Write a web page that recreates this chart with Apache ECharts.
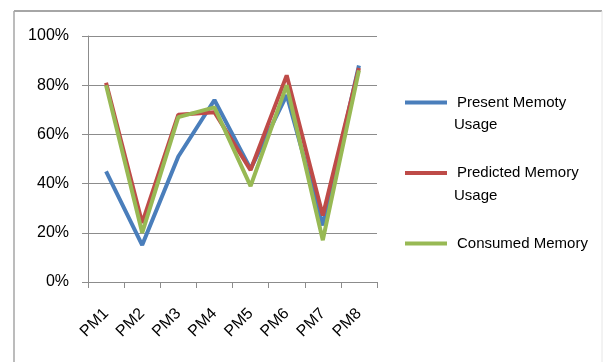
<!DOCTYPE html>
<html>
<head>
<meta charset="utf-8">
<script src="https://cdn.jsdelivr.net/npm/echarts@6/dist/echarts.min.js"></script>
<style>
  html, body { margin: 0; padding: 0; background: #fff; }
  #chart { width: 603px; height: 362px; }
</style>
</head>
<body>
<div id="chart"></div>
<script>
const categories = ["PM1", "PM2", "PM3", "PM4", "PM5", "PM6", "PM7", "PM8"];
const presentUsage = [45, 15, 51, 74, 46, 76, 23, 88];
const predictedUsage = [81, 24, 68, 69, 45.5, 84, 27, 87];
const consumedMemory = [80, 20, 67, 71, 39, 80, 17, 86];
const yTicks = [0, 20, 40, 60, 80, 100];

const chart = echarts.init(document.getElementById("chart"));

const lineSeries = (name, data, color) => ({
  name,
  type: "line",
  data,
  symbol: "none",
  lineStyle: { width: 4, color },
  itemStyle: { color },
});

// wrapped second line of the two long legend entries
const wrapText = (top) => ({
  type: "text",
  left: 454,
  top,
  style: { text: "Usage", fontSize: 15, fontFamily: "Liberation Sans", fill: "#000" },
});

chart.setOption({
  animation: false,
  textStyle: { fontFamily: "Liberation Sans" },
  graphic: [
    // outer chart frame (top, left, faint right)
    { type: "line", shape: { x1: 14, y1: 11, x2: 602, y2: 11 }, style: { stroke: "#a6a6a6", lineWidth: 2 } },
    { type: "line", shape: { x1: 14, y1: 11, x2: 14, y2: 362 }, style: { stroke: "#a6a6a6", lineWidth: 1.5 } },
    { type: "line", shape: { x1: 602, y1: 11, x2: 602, y2: 362 }, style: { stroke: "#e6e6e6", lineWidth: 1 } },
    wrapText(117),
    wrapText(188),
  ],
  legend: {
    orient: "vertical",
    left: 400,
    top: 86,
    itemWidth: 42,
    itemHeight: 4,
    itemGap: 47.5,
    icon: "rect",
    textStyle: { fontSize: 15, color: "#000", lineHeight: 23, padding: [0, 0, 0, 5] },
    formatter: (name) => name.replace(" Usage", ""),
    data: ["Present Memoty Usage", "Predicted Memory Usage", "Consumed Memory"],
  },
  grid: { left: 88, right: 226, top: 36, bottom: 80 },
  xAxis: {
    type: "category",
    data: categories,
    boundaryGap: true,
    axisLine: { lineStyle: { color: "#8c8c8c" } },
    axisTick: { show: true, length: 6, lineStyle: { color: "#8c8c8c" } },
    axisLabel: { rotate: 45, fontSize: 16, color: "#000", margin: 29 },
  },
  yAxis: {
    type: "value",
    min: yTicks[0],
    max: yTicks[yTicks.length - 1],
    interval: 20,
    axisLine: { show: true, lineStyle: { color: "#8c8c8c" } },
    axisTick: { show: true, length: 6, inside: false, lineStyle: { color: "#8c8c8c" } },
    axisLabel: { formatter: "{value}%", fontSize: 16, color: "#000", margin: 19 },
    splitLine: { lineStyle: { color: "#8c8c8c" } },
  },
  series: [
    lineSeries("Present Memoty Usage", presentUsage, "#4a7ebb"),
    lineSeries("Predicted Memory Usage", predictedUsage, "#be4b48"),
    lineSeries("Consumed Memory", consumedMemory, "#98b954"),
  ],
});
</script>
</body>
</html>
